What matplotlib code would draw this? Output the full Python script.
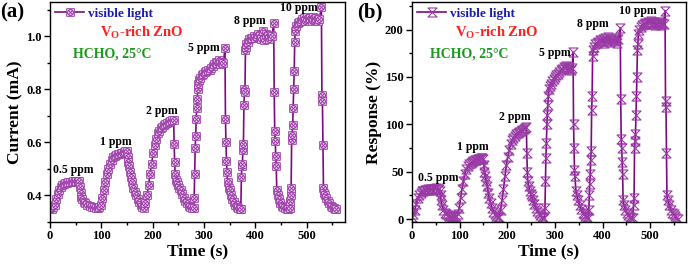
import matplotlib
matplotlib.use("Agg")
import matplotlib.pyplot as plt
import numpy as np
from matplotlib.path import Path
from matplotlib.ticker import MultipleLocator

# ---- panel (a): current vs time ----
t_a = [0, 3, 6, 9, 12, 15, 18, 21, 24, 27, 30, 33, 36, 39, 42, 45, 48, 51, 54, 57,
       59, 60, 61, 63, 66, 69, 73, 77, 81, 85, 89, 93, 96,
       99, 102, 105, 108, 111, 114, 117, 120, 123, 126, 129, 132, 135, 138, 141, 144, 147, 151,
       152, 153, 154, 156, 158, 160, 162, 165, 168, 171, 174, 177, 180, 183,
       186, 189, 192, 195, 198, 201, 204, 207, 210, 213, 216, 219, 222, 225, 228, 231, 234, 237, 241,
       242, 243, 244, 246, 248, 250, 252, 255, 258, 261, 264, 267, 270, 273, 276, 280,
       281, 282, 283, 284, 285, 286, 287, 288, 289, 291, 293, 296, 299, 302, 305, 308, 311, 314,
       317, 320, 323, 326, 329, 332, 335, 338, 341,
       342, 343, 344, 345, 346, 348, 350, 352, 355, 358, 361, 364, 367, 370, 372,
       373, 374, 375, 376, 377, 378, 379, 380, 381, 382, 383, 385, 388, 391, 394, 397, 400, 403,
       406, 409, 412, 415, 418, 421, 424, 427, 430, 433, 436,
       437, 438, 439, 440, 441, 442, 444, 446, 449, 452, 455, 458, 461, 464, 467,
       468, 469, 470, 471, 472, 473, 474, 475, 476, 477, 478, 480, 483, 486, 489, 492, 495, 498,
       501, 504, 507, 510, 513, 516, 519, 522, 525, 529,
       530, 531, 532, 533, 534, 536, 538, 541, 544, 547, 550, 553, 556, 558]
cur_a = [0.355, 0.350, 0.355, 0.365, 0.385, 0.405, 0.420, 0.432, 0.440, 0.445, 0.447, 0.449, 0.450,
         0.451, 0.452, 0.453, 0.453, 0.454, 0.455, 0.456,
         0.432, 0.410, 0.395, 0.385, 0.375, 0.370, 0.365, 0.360, 0.357, 0.355, 0.353, 0.352, 0.355,
         0.365, 0.390, 0.420, 0.450, 0.480, 0.500, 0.520, 0.535, 0.545, 0.550, 0.553, 0.556, 0.558,
         0.560, 0.562, 0.564, 0.566, 0.568,
         0.545, 0.525, 0.510, 0.490, 0.470, 0.450, 0.430, 0.415, 0.400, 0.385, 0.375, 0.365, 0.358, 0.352,
         0.370, 0.400, 0.440, 0.480, 0.520, 0.560, 0.590, 0.615, 0.635, 0.645, 0.655, 0.660, 0.665,
         0.670, 0.673, 0.676, 0.680, 0.683, 0.686,
         0.595, 0.525, 0.480, 0.460, 0.450, 0.440, 0.430, 0.420, 0.405, 0.390, 0.380, 0.370, 0.362,
         0.357, 0.353, 0.351,
         0.390, 0.480, 0.580, 0.625, 0.690, 0.730, 0.765, 0.800, 0.820, 0.835, 0.845, 0.855, 0.860,
         0.865, 0.870, 0.872, 0.875, 0.880, 0.890, 0.895, 0.905, 0.900, 0.910, 0.895, 0.905, 0.900, 0.955,
         0.690, 0.600, 0.530, 0.490, 0.450, 0.430, 0.420, 0.400, 0.385, 0.375, 0.365, 0.358, 0.353, 0.350, 0.350,
         0.470, 0.510, 0.520, 0.570, 0.595, 0.740, 0.800, 0.790, 0.950, 0.960, 0.970, 0.980, 0.990,
         0.995, 0.995, 1.000, 0.995, 1.000, 1.010, 1.000, 0.990, 1.020, 0.985, 1.010, 1.000, 0.990,
         1.005, 1.000, 1.050,
         0.790, 0.645, 0.605, 0.550, 0.510, 0.420, 0.400, 0.385, 0.370, 0.360, 0.355, 0.352, 0.350, 0.350, 0.352,
         0.380, 0.400, 0.430, 0.610, 0.630, 0.665, 0.730, 0.800, 0.870, 0.980, 1.020, 1.040, 1.050,
         1.055, 1.060, 1.065, 1.070, 1.060, 1.075, 1.065, 1.070, 1.060, 1.075, 1.065, 1.070, 1.060,
         1.065, 1.110,
         0.780, 0.755, 0.590, 0.430, 0.410, 0.400, 0.390, 0.380, 0.370, 0.362, 0.357, 0.353, 0.350, 0.350]

# ---- panel (b): response vs time ----
t_b = [0, 3, 6, 9, 12, 15, 18, 21, 24, 27, 30, 33, 36, 39, 42, 45, 48, 51, 54, 57, 59,
       60, 61, 63, 66, 69, 72, 75, 78, 81, 84, 87, 90, 93, 96,
       99, 102, 105, 108, 111, 114, 117, 120, 123, 126, 129, 132, 135, 138, 141, 144, 147, 150,
       151, 152, 154, 156, 158, 160, 162, 165, 168, 171, 174, 177, 180, 183,
       186, 189, 192, 195, 198, 201, 204, 207, 210, 213, 216, 219, 222, 225, 228, 231, 234, 237, 240,
       241, 242, 243, 245, 247, 249, 251, 254, 257, 260, 263, 266, 269, 272, 275, 278,
       279, 280, 281, 282, 283, 284, 285, 286, 287, 289, 291, 294, 297, 300, 303, 306, 309, 312,
       315, 318, 321, 324, 327, 330, 333, 336, 338,
       339, 340, 341, 342, 344, 346, 349, 352, 355, 358, 361, 364, 367, 370,
       371, 372, 373, 374, 375, 376, 377, 378, 379, 380, 382, 385, 388, 391, 394, 397, 400, 403,
       406, 409, 412, 415, 418, 421, 424, 427, 430, 433, 437,
       438, 439, 440, 441, 442, 443, 445, 448, 451, 454, 457, 460, 463,
       465, 466, 467, 468, 469, 470, 471, 472, 473, 474, 475, 477, 480, 483, 486, 489, 492, 495,
       498, 501, 504, 507, 510, 513, 516, 519, 522, 525, 528, 531,
       532, 533, 534, 535, 537, 540, 543, 546, 549, 552, 555, 558]
resp_b = [2, 5, 10, 16, 22, 26, 28, 30, 30, 31, 31, 32, 31, 32, 32, 31, 32, 33, 32, 32, 30,
          25, 20, 15, 10, 7, 5, 4, 3, 3, 2, 3, 2, 3, 5,
          12, 22, 32, 40, 48, 53, 56, 58, 59, 60, 61, 62, 62, 63, 63, 64, 64, 63,
          57, 50, 45, 40, 35, 28, 22, 17, 12, 8, 5, 3, 2, 2,
          10, 20, 32, 45, 57, 66, 73, 79, 83, 86, 88, 90, 91, 92, 93, 94, 95, 96, 97,
          70, 50, 40, 35, 30, 27, 24, 20, 16, 12, 9, 6, 4, 2, 1, 1,
          12, 40, 65, 80, 100, 110, 120, 130, 137, 140, 143, 146, 148, 150, 152, 153, 155, 157,
          158, 160, 159, 161, 158, 160, 157, 159, 176,
          100, 75, 52, 45, 30, 25, 20, 15, 11, 7, 5, 3, 2, 1,
          10, 25, 37, 48, 62, 72, 115, 130, 172, 178, 182, 185, 186, 187, 189, 188, 190, 186,
          191, 188, 192, 187, 190, 189, 188, 191, 186, 190, 202,
          127, 85, 75, 60, 48, 20, 15, 10, 6, 4, 2, 1, 1,
          15, 22, 75, 82, 90, 110, 130, 150, 178, 185, 195, 200, 203, 205, 206, 207, 206, 208,
          207, 209, 206, 208, 205, 207, 206, 208, 205, 207, 206, 220,
          125, 118, 70, 25, 20, 15, 10, 7, 5, 3, 1, 0]

conc_labels = ["0.5 ppm", "1 ppm", "2 ppm", "5 ppm", "8 ppm", "10 ppm"]
lab_t_a = [45, 129, 217, 299, 389, 484]
lab_y_a = [0.495, 0.600, 0.718, 0.956, 1.057, 1.107]
lab_t_b = [55, 127, 215, 299, 380, 473]
lab_y_b = [43, 76, 108, 175, 206, 220]

plt.rcParams['font.family'] = 'Liberation Serif'
plt.rcParams['font.weight'] = 'bold'
plt.rcParams['mathtext.fontset'] = 'custom'
plt.rcParams['mathtext.rm'] = 'Liberation Serif:bold'
plt.rcParams['mathtext.bf'] = 'Liberation Serif:bold'

line_col = '#7d0a82'
edge_col = '#9a3aa6'
face_col = '#f3e6f5'

# square with a crossed circle inside
sq = Path([(-1, -1), (1, -1), (1, 1), (-1, 1), (-1, -1)],
          [Path.MOVETO, Path.LINETO, Path.LINETO, Path.LINETO, Path.CLOSEPOLY])
circ = Path(Path.unit_circle().vertices * 0.75, Path.unit_circle().codes)
xx = Path([(-0.53, -0.53), (0.53, 0.53), (-0.53, 0.53), (0.53, -0.53)],
          [Path.MOVETO, Path.LINETO, Path.MOVETO, Path.LINETO])
mark_a = Path.make_compound_path(sq, circ, xx)
# hourglass (X with top and bottom bars)
mark_b = Path([(-1, 1), (1, 1), (-1, -1), (1, -1), (-1, 1)],
              [Path.MOVETO, Path.LINETO, Path.LINETO, Path.LINETO, Path.CLOSEPOLY])

fig = plt.figure(figsize=(6.88, 2.68), dpi=100)
ax1 = fig.add_axes([50 / 688, 46 / 268, 295 / 688, 220 / 268])
ax2 = fig.add_axes([412 / 688, 46 / 268, 274 / 688, 220 / 268])

ax1.plot(t_a, cur_a, color=line_col, lw=1.2, marker=mark_a, ms=5.5,
         mec=edge_col, mfc=face_col, mew=0.7, label='visible light')
ax2.plot(t_b, resp_b, color=line_col, lw=1.2, marker=mark_b, ms=6.5,
         mec=edge_col, mfc='none', mew=0.8, label='visible light')

for ax, lt, ly in [(ax1, lab_t_a, lab_y_a), (ax2, lab_t_b, lab_y_b)]:
    for s, x, y in zip(conc_labels, lt, ly):
        ax.text(x, y, s, fontsize=8.5, fontweight='bold', ha='center', va='center')
    ax.text(0.31, 0.86, r'V$_\mathbf{O}$-rich ZnO', transform=ax.transAxes, color='#ff2020',
            fontsize=10.5, fontweight='bold', ha='center', va='center')
    ax.text(0.21, 0.765, 'HCHO, 25\u00b0C', transform=ax.transAxes, color='#1a9a1a',
            fontsize=10, fontweight='bold', ha='center', va='center')
    leg = ax.legend(loc='upper left', frameon=False, fontsize=9.5, handlelength=2.2,
                    handletextpad=0.3, borderaxespad=0.2, borderpad=0.2)
    for tx in leg.get_texts():
        tx.set_color('#1c1caa')
    ax.set_xlim(0, 575)
    ax.xaxis.set_major_locator(MultipleLocator(100))
    ax.xaxis.set_minor_locator(MultipleLocator(50))
    ax.set_xlabel('Time (s)', fontsize=12.5, fontweight='bold', labelpad=1)
    ax.tick_params(which='major', direction='out', length=4, width=1, labelsize=9, pad=2)
    ax.tick_params(which='minor', direction='out', length=2.5, width=1)
    for sp in ax.spines.values():
        sp.set_linewidth(1)

ax1.set_ylim(0.30, 1.13)
ax1.yaxis.set_major_locator(MultipleLocator(0.2))
ax1.yaxis.set_minor_locator(MultipleLocator(0.1))
ax1.set_ylabel('Current (mA)', fontsize=12.5, fontweight='bold', labelpad=2)

ax2.set_ylim(-3, 229)
ax2.yaxis.set_major_locator(MultipleLocator(50))
ax2.yaxis.set_minor_locator(MultipleLocator(25))
ax2.set_ylabel('Response (%)', fontsize=12.5, fontweight='bold', labelpad=2)

fig.text(0.0, 0.99, '(a)', fontsize=15, fontweight='bold', ha='left', va='top')
fig.text(357 / 688, 0.99, '(b)', fontsize=15, fontweight='bold', ha='left', va='top')

fig.savefig('out.png', dpi=100)
